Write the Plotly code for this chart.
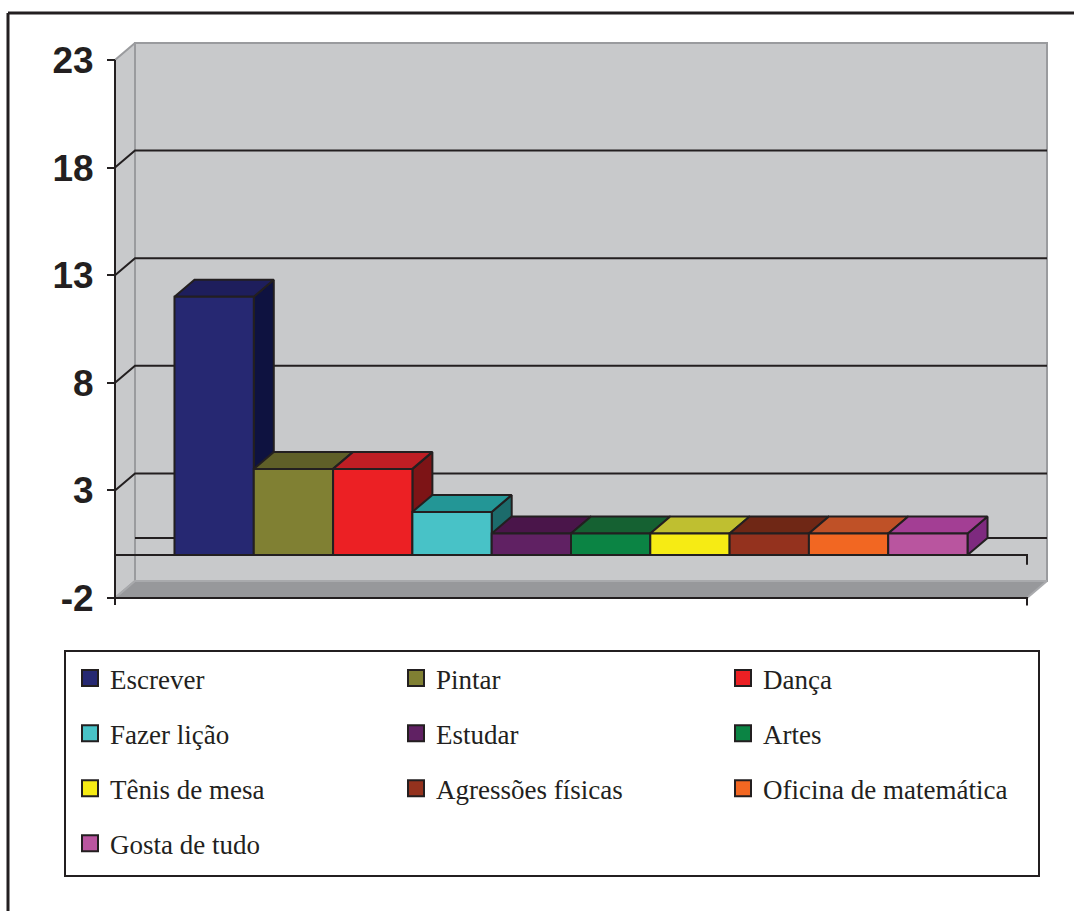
import plotly.graph_objects as go

# ---------------- data ----------------
categories = ["Escrever", "Pintar", "Dança", "Fazer lição", "Estudar", "Artes",
              "Tênis de mesa", "Agressões físicas", "Oficina de matemática", "Gosta de tudo"]
values = [12, 4, 4, 2, 1, 1, 1, 1, 1, 1]
tick_values = [-2, 3, 8, 13, 18, 23]
tick_labels = ["-2", "3", "8", "13", "18", "23"]
legend_columns = [[0, 3, 6, 9], [1, 4, 7], [2, 5, 8]]

front_colors = ["#262872", "#808033", "#EC2024", "#48C2C7", "#602163", "#0B8444",
                "#F6EB14", "#94321E", "#F26722", "#B9559F"]
top_colors = ["#1E1E5C", "#5F5F28", "#BE1E24", "#239696", "#4A154A", "#156132",
              "#BFBF30", "#6F2715", "#BF5127", "#A33E94"]
side_colors = ["#0E1240", "#4D4D1E", "#7D1416", "#1C6B6B", "#3A0F3C", "#0D4A26",
               "#A6A020", "#5A1E10", "#A3481A", "#7E2A7F"]

# ---------------- geometry (pixels of layout) ----------------
W, H = 1074, 911
PL, PR, PT, PB = 100, 1060, 30, 620          # plot area in pixels
FX0, FX1 = 115, 1027                          # front plane x extent (pixels)
FY_BOTTOM, FY_TOP = 598, 60                   # pixel rows of -2 and 23
YMIN, YMAX = -2, 23
PX_X = FX1 - FX0
PX_Y = (FY_BOTTOM - FY_TOP) / (YMAX - YMIN)
DX = 20 / PX_X                                # depth offset in data units
DY = 17 / PX_Y

xr = [(PL - FX0) / PX_X, (PR - FX0) / PX_X]
yr = [YMIN - (PB - FY_BOTTOM) / PX_Y, YMIN + (FY_BOTTOM - PT) / PX_Y]


def px_to_paper_x(px):
    return (px - PL) / (PR - PL)


def px_to_paper_y(py):
    return (PB - py) / (PB - PT)


INK = "#231F20"
WALL = "#C8C9CB"
WALL_EDGE = "#9A9B9E"
FLOOR = "#97989B"
SERIF = "Liberation Serif, DejaVu Serif, serif"

fig = go.Figure()


def poly(xs, ys, fill, line_color, line_width=2):
    fig.add_trace(go.Scatter(x=xs + [xs[0]], y=ys + [ys[0]], mode="lines", fill="toself",
                             fillcolor=fill, line=dict(color=line_color, width=line_width),
                             hoverinfo="skip", showlegend=False))


def lines(xs, ys, color, width=2):
    fig.add_trace(go.Scatter(x=xs, y=ys, mode="lines", line=dict(color=color, width=width),
                             hoverinfo="skip", showlegend=False))


# walls
poly([DX, DX, 1 + DX, 1 + DX], [YMIN + DY, YMAX + DY, YMAX + DY, YMIN + DY], WALL, WALL_EDGE)
poly([0, 0, DX, DX], [YMIN, YMAX, YMAX + DY, YMIN + DY], WALL, WALL_EDGE)
poly([0, DX, 1 + DX, 1], [YMIN, YMIN + DY, YMIN + DY, YMIN], FLOOR, "#A9AAAD")

# gridlines: side wall slants + back wall horizontals
gx, gy = [], []
for v in tick_values[1:-1]:
    gx += [0, DX, 1 + DX, None]
    gy += [v, v + DY, v + DY, None]
gx += [DX, 1 + DX, None]
gy += [0 + DY, 0 + DY, None]
lines(gx, gy, INK, 2)

# bars (painter's order: left to right, side -> top -> front)
n = len(values)
bw = 1 / (n + 1.5)
x_start = (1 - n * bw) / 2
for i, (name, v) in enumerate(zip(categories, values)):
    xl = x_start + i * bw
    xrt = xl + bw
    poly([xrt, xrt, xrt + DX, xrt + DX], [0, v, v + DY, DY], side_colors[i], INK)
    poly([xl, xrt, xrt + DX, xl + DX], [v, v, v + DY, v + DY], top_colors[i], INK)
    poly([xl, xl, xrt, xrt], [0, v, v, 0], front_colors[i], INK)

# front axis lines
lines([0, 1, 1], [0, 0, -0.45], INK, 2)
lines([0, 1, 1], [YMIN, YMIN, YMIN - 0.35], INK, 2)
lines([0, 0], [YMAX, YMIN - 0.33], INK, 2)

# legend entries (three column legends)
legend_names = ["legend", "legend2", "legend3"]
for col, idxs in enumerate(legend_columns):
    for i in idxs:
        fig.add_trace(go.Scatter(
            x=[None], y=[None], mode="markers", name=categories[i],
            marker=dict(symbol="square", size=16, color=front_colors[i],
                        line=dict(color=INK, width=2)),
            legend=legend_names[col], legendgroup=categories[i], hoverinfo="skip"))

legend_font = dict(family=SERIF, size=27, color=INK)
legend_x_px = [70, 396, 723]
legend_common = dict(orientation="v", yanchor="top", xanchor="left", bgcolor="rgba(0,0,0,0)",
                     borderwidth=0, font=legend_font, tracegroupgap=17,
                     itemsizing="trace", y=px_to_paper_y(654))

fig.update_layout(
    width=W, height=H,
    font=dict(family=SERIF, size=27, color=INK),
    margin=dict(l=PL, r=W - PR, t=PT, b=H - PB),
    paper_bgcolor="white", plot_bgcolor="white",
    showlegend=True,
    legend=dict(x=px_to_paper_x(legend_x_px[0]), **legend_common),
    legend2=dict(x=px_to_paper_x(legend_x_px[1]), **legend_common),
    legend3=dict(x=px_to_paper_x(legend_x_px[2]), **legend_common),
    xaxis=dict(range=xr, visible=False, fixedrange=True),
    yaxis=dict(range=yr, anchor="free", position=px_to_paper_x(FX0), showgrid=False,
               zeroline=False, showline=False, tickmode="array", tickvals=tick_values,
               ticktext=tick_labels, ticks="outside", ticklen=8, tickwidth=2, tickcolor=INK,
               ticklabelstandoff=6,
               tickfont=dict(family="Liberation Sans, Arial, sans-serif", size=37,
                             color=INK, weight="bold"),
               fixedrange=True),
    shapes=[
        dict(type="rect", xref="paper", yref="paper",
             x0=px_to_paper_x(65), x1=px_to_paper_x(1039),
             y0=px_to_paper_y(876), y1=px_to_paper_y(651),
             line=dict(color=INK, width=2), fillcolor="rgba(0,0,0,0)"),
        dict(type="line", xref="paper", yref="paper",
             x0=px_to_paper_x(8), x1=px_to_paper_x(W + 5),
             y0=px_to_paper_y(13), y1=px_to_paper_y(13),
             line=dict(color=INK, width=3)),
        dict(type="line", xref="paper", yref="paper",
             x0=px_to_paper_x(8), x1=px_to_paper_x(8),
             y0=px_to_paper_y(13), y1=px_to_paper_y(H + 5),
             line=dict(color=INK, width=3)),
    ],
)

fig.write_html("out.html")
